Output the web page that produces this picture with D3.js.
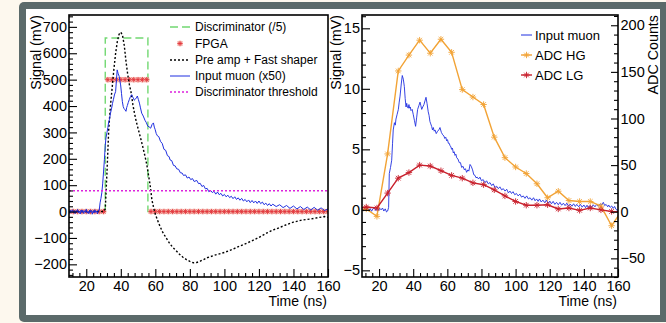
<!DOCTYPE html>
<html>
<head>
<meta charset="utf-8">
<script src="https://cdn.jsdelivr.net/npm/d3@7"></script>
<style>
  body { margin: 0; background: #fdf8ee; }
  text { font-family: "Liberation Sans", Arial, Helvetica, sans-serif; }
</style>
</head>
<body>
<div id="chart"></div>
<script>
// ---- data ----
// left panel: [time (ns), signal (mV)]
var discriminator = [[10,0],[31,0],[31,658],[55.7,658],[55.7,0],[160,0]];
var fpga = [[10,0],[12.5,0],[15,0],[17.5,0],[20,0],[22.5,0],[25,0],[27.5,0],[30,0],
  [32.5,500],[35,500],[37.5,500],[40,500],[42.5,500],[45,500],[47.5,500],[50,500],[52.5,500],[55,500],
  [57.5,0],[60,0],[62.5,0],[65,0],[67.5,0],[70,0],[72.5,0],[75,0],[77.5,0],[80,0],[82.5,0],[85,0],
  [87.5,0],[90,0],[92.5,0],[95,0],[97.5,0],[100,0],[102.5,0],[105,0],[107.5,0],[110,0],[112.5,0],
  [115,0],[117.5,0],[120,0],[122.5,0],[125,0],[127.5,0],[130,0],[132.5,0],[135,0],[137.5,0],[140,0],
  [142.5,0],[145,0],[147.5,0],[150,0],[152.5,0],[155,0],[157.5,0],[160,0]];
var preamp = [[10,0],[15,0],[20,0],[25,0],[28,0],[30,0],[31,10],[32,150],[33,310],[34,400],[35,470],
  [36,540],[37,600],[38,645],[39,672],[40,680],[41,668],[42,630],[43,570],[44,520],[45,480],[46,450],
  [47,405],[48,370],[49,340],[50,315],[51,290],[52,265],[53,238],[54,210],[55,180],[56,140],[57,100],
  [58,45],[59,15],[60,-10],[62,-45],[64,-75],[66,-97],[68,-118],[70,-135],[72,-148],[74,-162],[76,-173],
  [78,-182],[80,-189],[82,-194],[84,-193],[86,-188],[88,-182],[90,-175],[95,-164],[100,-155],[105,-142],
  [110,-128],[115,-114],[120,-98],[125,-80],[128,-70],[130,-66],[135,-52],[140,-40],[145,-32],[150,-28],
  [155,-22],[158,-19],[160,-22]];
var muonLeft = [[10,2],[10.5,-6],[11,5],[11.5,-3],[12,7],[12.5,-4],[13,3],[13.5,-8],[14,4],[14.5,-2],
  [15,8],[15.5,-5],[16,2],[16.5,-9],[17,6],[17.5,-3],[18,5],[18.5,-7],[19,3],[19.5,-2],[20,9],[20.5,-6],
  [21,1],[21.5,-8],[22,6],[22.5,-2],[23,4],[23.5,-10],[24,3],[24.5,-5],[25,7],[25.5,-3],[26,2],[26.5,-9],
  [27,5],[27.5,4],[28,33],[28.5,50],[29,71],[29.5,105],[30,150],[30.5,197],[31,250],[31.4,279],[32,300],
  [32.5,318],[33,340],[33.4,348],[34,372],[34.7,392],[35.2,410],[35.7,424],[36.3,442],[37,455],[37.5,500],
  [37.9,537],[38.5,522],[39.1,512],[39.5,494],[39.9,480],[40.4,448],[40.9,417],[41.4,398],[41.9,390],
  [42.4,386],[43,380],[43.4,394],[43.8,402],[44.3,413],[44.9,424],[45.6,436],[46.3,443],[46.8,435],
  [47.3,430],[47.8,422],[48.3,425],[49,431],[49.6,438],[50.2,424],[50.8,411],[51.4,393],[52.1,373],
  [53,362],[54,346],[54.8,337],[55.6,324],[56.4,321],[57.3,316],[58.1,330],[58.9,336],[59.4,320],
  [59.9,311],[60.5,296],[61.2,287],[62,284],[63,266],[64,258],[65,236],[66,232],[67,212],[68,208],
  [68.5,196],[69.5,193],[70.5,175],[71.5,173],[72.4,162],[73.5,160],[74.5,147],[75.5,146],[76.3,137],
  [77.5,139],[78.5,127],[79.5,131],[80.5,121],[81.5,125],[82.5,114],[84,118],[85,106],[86,107],[87,95],
  [88,99],[89,86],[90,88],[91,75],[92,80],[93,72],[94,77],[95,66],[96,74],[97,64],[98,69],[99,59],
  [100,65],[101,56],[102,62],[103,53],[104,58],[105,49],[106,56],[107,46],[108,52],[109,43],[110,50],
  [111,40],[112,46],[113,37],[114,44],[115,34],[116,42],[117,33],[118,40],[119,31],[120,40],[121,30],
  [122,36],[123,26],[124,32],[125,23],[126,30],[127,21],[128,28],[130,19],[132,26],[134,15],[136,23],
  [138,12],[140,21],[142,10],[144,19],[146,8],[148,17],[150,6],[152,16],[154,5],[156,14],[158,4],[160,10]];
var threshold = [[10,79],[160,79]];

// right panel: input muon [time, mV], ADC samples [counts]
var muonRight = [[10,0.05],[10.8,-0.1],[11.6,0.12],[12.4,-0.05],[13.2,0.15],[14,-0.08],[14.8,0.1],
  [15.6,-0.12],[16.4,0.08],[17.2,0.18],[18,-0.05],[18.8,0.1],[19.6,-0.1],[20.4,0.12],[21.2,0],[22,0.15],
  [22.8,-0.1],[23.6,0.08],[24.4,-0.18],[25,-0.1],[25.6,0.2],[26,3],[26.7,3.5],[27.4,4.1],[27.9,5.5],
  [28.3,6.6],[29,7.2],[29.5,7],[29.9,7.5],[30.6,7.9],[31.3,8.3],[31.8,8.9],[32.3,9.4],[33,10.4],
  [33.6,11.1],[34.2,10.8],[34.8,10.2],[35.3,9.2],[35.8,8.5],[36.2,8.8],[36.6,8.5],[37.1,8.4],[37.5,8.7],
  [37.9,8.4],[38.3,8.5],[38.7,8.2],[39.4,8.3],[40,7.9],[40.7,7.4],[41.4,6.9],[42,7.6],[42.6,8.3],
  [43.3,8.6],[44,8.9],[44.5,8.6],[45,8.3],[45.6,8.5],[46.3,8.7],[46.9,9],[47.5,9.3],[48.1,8.8],[48.8,8.1],
  [49.3,7.8],[49.8,7.3],[50.3,7.1],[50.8,6.9],[51.3,6.6],[51.8,6.8],[52.3,6.5],[52.8,6.6],[53.5,6.3],
  [54.3,6.5],[55,6.6],[55.7,6.8],[56.5,6.4],[57.3,6.2],[58,6.1],[58.5,5.9],[59.1,6],[59.6,5.7],[60.1,5.8],
  [60.6,5.5],[61.1,5.5],[61.6,5.3],[62.1,5.2],[62.5,5],[63,5.1],[63.5,4.7],[64,4.8],[64.5,4.5],[65,4.6],
  [65.5,4.3],[66.2,4.2],[67,3.9],[67.7,3.9],[68.4,3.5],[69.2,3.6],[70,3.3],[70.6,3.4],[71.3,3.1],[72,3.3],
  [72.6,3.2],[73.3,3.75],[74,3.6],[74.8,3.3],[75.5,2.9],[76.2,2.85],[76.8,2.65],[77.5,2.7],[78.3,2.55],
  [79.1,2.7],[80,2.4],[81,2.5],[82,2.25],[83,2.4],[84,2.15],[85,2.25],[86,2],[86.9,2.15],[87.9,1.85],
  [88.9,1.95],[89.9,1.75],[90.8,1.9],[91.8,1.65],[92.8,1.75],[93.8,1.55],[94.8,1.7],[95.8,1.4],[96.7,1.55],
  [97.6,1.35],[98.5,1.5],[99.5,1.25],[100.5,1.35],[101.5,1.15],[102.5,1.3],[103.5,1.05],[104.5,1.15],
  [105.5,0.95],[106.5,1.15],[107.5,0.9],[108.5,1],[109.5,0.8],[110.5,1],[111.4,0.75],[112.3,0.9],
  [113.2,0.7],[114,0.9],[115,0.65],[116,0.8],[117,0.6],[118,0.8],[119,0.55],[120.1,0.72],[121,0.5],
  [122,0.7],[123,0.45],[124,0.62],[125,0.42],[126,0.62],[127,0.38],[128,0.55],[129,0.35],[130,0.55],
  [131,0.3],[132,0.48],[133,0.3],[134,0.5],[135,0.28],[135.8,0.45],[137,0.25],[138,0.45],[139,0.22],
  [140,0.4],[141,0.18],[141.8,0.38],[142.7,0.18],[143.6,0.35],[144.5,0.2],[145.5,0.42],[146.5,0.25],
  [147.5,0.45],[148.5,0.3],[149.5,0.5],[150.5,0.4],[151.4,0.62],[152.2,0.35],[153,0.45],[154,0.25],
  [154.5,0.4],[155.4,0.2],[156.3,0.32],[157.2,0.12],[158,0.28],[158.8,0.05],[159.6,-0.05],[160,0.05]];
var adcTime = [6.25,12.5,18.75,25,31.25,37.5,43.75,50,56.25,62.5,68.75,75,81.25,87.5,93.75,100,
  106.25,112.5,118.75,125,131.25,137.5,143.75,150,156.25,162.5];
var adcHG = [0,3,-5,62,151,168,184,170,185,171,131,123,115,80,58,48,41,30,15,22,12,11,11,6,-15,2];
var adcLG = [3,5,4,20,36,42,50,49,44,39,36,31,29,23.5,17,11,7,7,7.5,3,4,1.5,4,2,0.3,0];

// tick labels
var timeTicks = [20,40,60,80,100,120,140,160];
var leftSignalTicks = [-200,-100,0,100,200,300,400,500,600,700];
var rightSignalTicks = [-5,0,5,10,15];
var adcTicks = [-50,0,50,100,150,200];

var legendLeft = ["Discriminator (/5)","FPGA","Pre amp + Fast shaper","Input muon (x50)","Discriminator threshold"];
var legendRight = ["Input muon","ADC HG","ADC LG"];

var colGreen = "#72d872", colFpga = "#e3343c", colBlue = "#1f2fe0", colMag = "#dd22dd",
    colOrange = "#f2a335", colRed = "#c8202c";

// ---- canvas ----
var svg = d3.select("#chart").append("svg")
    .attr("width", 666)
    .attr("height", 323);

svg.append("rect").attr("width", 666).attr("height", 323).attr("fill", "#fdf8ee");
svg.append("rect").attr("x", 19).attr("y", 2).attr("width", 660).attr("height", 320)
    .attr("rx", 5).attr("fill", "#5b6a6a");
svg.append("rect").attr("x", 26).attr("y", 9).attr("width", 634).attr("height", 306).attr("fill", "#fff");

var boxL = {x0: 69, x1: 328, y0: 15, y1: 277};
var boxR = {x0: 362, x1: 618, y0: 15, y1: 277};

var xL = d3.scaleLinear().domain([10, 160]).range([boxL.x0, boxL.x1]);
var yL = d3.scaleLinear().domain([-248, 745]).range([boxL.y1, boxL.y0]);
var xR = d3.scaleLinear().domain([10, 160]).range([boxR.x0, boxR.x1]);
var yR = d3.scaleLinear().domain([-5.55, 16.1]).range([boxR.y1, boxR.y0]);
var yA = d3.scaleLinear().domain([-70, 211]).range([boxR.y1, boxR.y0]);

function minorTicks(lo, hi, step, majors) {
    return d3.range(lo, hi + 1e-9, step).filter(function(v) {
        return majors.indexOf(Math.round(v * 1000) / 1000) < 0;
    });
}

function styleAxis(g, size) {
    g.select(".domain").remove();
    g.selectAll("line").attr("stroke", "#000").attr("stroke-width", 1.1);
    g.selectAll("text").style("font-size", size + "px").style("font-family", '"Liberation Sans", Arial, sans-serif').attr("fill", "#000");
}

function frameAndAxes(box, x, y, yTicks, yMinorStep) {
    // x axis (ticks point inward)
    svg.append("g")
        .attr("transform", "translate(0," + box.y1 + ")")
        .call(d3.axisBottom(x).tickValues(minorTicks(12, 160, 4, timeTicks)).tickSizeInner(-4).tickSizeOuter(0).tickFormat(""))
        .call(function(g) { styleAxis(g, 14.5); });
    svg.append("g")
        .attr("transform", "translate(0," + box.y1 + ")")
        .call(d3.axisBottom(x).tickValues(timeTicks).tickSizeInner(-8).tickSizeOuter(0).tickPadding(4))
        .call(function(g) { styleAxis(g, 14.5); });

    // left y axis
    var dom = y.domain();
    svg.append("g")
        .attr("transform", "translate(" + box.x0 + ",0)")
        .call(d3.axisLeft(y).tickValues(minorTicks(Math.ceil(dom[0] / yMinorStep) * yMinorStep, dom[1], yMinorStep, yTicks))
            .tickSizeInner(-4).tickSizeOuter(0).tickFormat(""))
        .call(function(g) { styleAxis(g, 14.5); });
    svg.append("g")
        .attr("transform", "translate(" + box.x0 + ",0)")
        .call(d3.axisLeft(y).tickValues(yTicks).tickSizeInner(-8).tickSizeOuter(0).tickPadding(2))
        .call(function(g) { styleAxis(g, 14.5); });

    // frame
    svg.append("rect")
        .attr("x", box.x0).attr("y", box.y0)
        .attr("width", box.x1 - box.x0).attr("height", box.y1 - box.y0)
        .attr("fill", "none").attr("stroke", "#000").attr("stroke-width", 1.6);
}

function star(cx, cy, r) {
    var d = r * 0.72;
    return "M" + (cx - r) + "," + cy + "h" + (2 * r) +
        "M" + cx + "," + (cy - r) + "v" + (2 * r) +
        "M" + (cx - d) + "," + (cy - d) + "l" + (2 * d) + "," + (2 * d) +
        "M" + (cx - d) + "," + (cy + d) + "l" + (2 * d) + "," + (-2 * d);
}

// clip paths
var defs = svg.append("defs");
[["clipL", boxL], ["clipR", boxR]].forEach(function(c) {
    defs.append("clipPath").attr("id", c[0]).append("rect")
        .attr("x", c[1].x0).attr("y", c[1].y0)
        .attr("width", c[1].x1 - c[1].x0).attr("height", c[1].y1 - c[1].y0);
});

// ================= left panel =================
var lineL = d3.line()
    .x(function(d) { return xL(d[0]); })
    .y(function(d) { return yL(d[1]); });

var plotL = svg.append("g").attr("clip-path", "url(#clipL)");

plotL.append("path")
    .attr("d", lineL(discriminator))
    .attr("fill", "none").attr("stroke", colGreen).attr("stroke-width", 1.4)
    .attr("stroke-dasharray", "8,4");

plotL.selectAll(".fpga")
    .data(fpga)
    .enter()
    .append("g")
    .each(function(d) {
        var g = d3.select(this);
        g.append("circle").attr("cx", xL(d[0])).attr("cy", yL(d[1])).attr("r", 3)
            .attr("fill", "#f5b3a6").attr("opacity", 0.7);
        g.append("path").attr("d", star(xL(d[0]), yL(d[1]), 2.6))
            .attr("stroke", colFpga).attr("stroke-width", 0.9).attr("fill", "none");
    });

plotL.append("path")
    .attr("d", lineL(preamp))
    .attr("fill", "none").attr("stroke", "#000").attr("stroke-width", 1.4)
    .attr("stroke-dasharray", "2,2");

plotL.append("path")
    .attr("d", lineL(muonLeft))
    .attr("fill", "none").attr("stroke", colBlue).attr("stroke-width", 1);

plotL.append("path")
    .attr("d", lineL(threshold))
    .attr("fill", "none").attr("stroke", colMag).attr("stroke-width", 1.4)
    .attr("stroke-dasharray", "2,2");

frameAndAxes(boxL, xL, yL, leftSignalTicks, 20);

// legend, left
var legY = [27, 43.5, 60, 76, 92];
legendLeft.forEach(function(label, i) {
    var yy = legY[i];
    if (i === 1) {
        svg.append("circle").attr("cx", 180).attr("cy", yy).attr("r", 3).attr("fill", "#f5b3a6").attr("opacity", 0.7);
        svg.append("path").attr("d", star(180, yy, 2.6)).attr("stroke", colFpga).attr("stroke-width", 0.9).attr("fill", "none");
    } else {
        var st = [colGreen, null, "#000", colBlue, colMag][i];
        var dash = i === 0 ? "8,4" : (i === 3 ? null : "2,2");
        svg.append("line").attr("x1", 170).attr("x2", 190).attr("y1", yy).attr("y2", yy)
            .attr("stroke", st).attr("stroke-width", i === 3 ? 1 : 1.4)
            .attr("stroke-dasharray", dash);
    }
    svg.append("text").attr("x", 195).attr("y", yy).attr("dy", "0.36em")
        .style("font-size", "12px").text(label);
});

// axis titles, left
svg.append("text")
    .attr("transform", "translate(41,15) rotate(-90)")
    .style("text-anchor", "end").style("font-size", "14.3px")
    .text("Signal (mV)");
svg.append("text")
    .attr("x", 327).attr("y", 306)
    .style("text-anchor", "end").style("font-size", "14px")
    .text("Time (ns)");

// ================= right panel =================
var lineMuonR = d3.line()
    .x(function(d) { return xR(d[0]); })
    .y(function(d) { return yR(d[1]); });
var lineAdc = d3.line()
    .x(function(d) { return xR(d[0]); })
    .y(function(d) { return yA(d[1]); });

var plotR = svg.append("g").attr("clip-path", "url(#clipR)");

plotR.append("path")
    .attr("d", lineMuonR(muonRight))
    .attr("fill", "none").attr("stroke", colBlue).attr("stroke-width", 0.9);

[[adcHG, colOrange], [adcLG, colRed]].forEach(function(s) {
    var pts = d3.zip(adcTime, s[0]);
    plotR.append("path")
        .attr("d", lineAdc(pts))
        .attr("fill", "none").attr("stroke", s[1]).attr("stroke-width", 1.4);
    plotR.selectAll(null)
        .data(pts)
        .enter()
        .append("path")
        .attr("d", function(d) { return star(xR(d[0]), yA(d[1]), 3.2); })
        .attr("stroke", s[1]).attr("stroke-width", 0.9).attr("fill", "none");
});

frameAndAxes(boxR, xR, yR, rightSignalTicks, 1);

// ADC axis on the right
svg.append("g")
    .attr("transform", "translate(" + boxR.x1 + ",0)")
    .call(d3.axisRight(yA).tickValues(minorTicks(-70, 211, 10, adcTicks)).tickSizeInner(-4).tickSizeOuter(0).tickFormat(""))
    .call(function(g) { styleAxis(g, 14.5); });
svg.append("g")
    .attr("transform", "translate(" + boxR.x1 + ",0)")
    .call(d3.axisRight(yA).tickValues(adcTicks).tickSizeInner(-7).tickSizeOuter(0).tickPadding(2.5))
    .call(function(g) { styleAxis(g, 14.5); });

// legend, right
var legRY = [35, 55, 75];
var legRCol = [colBlue, colOrange, colRed];
legendRight.forEach(function(label, i) {
    var yy = legRY[i];
    svg.append("line").attr("x1", 521).attr("x2", 532).attr("y1", yy).attr("y2", yy)
        .attr("stroke", legRCol[i]).attr("stroke-width", i === 0 ? 1 : 1.4);
    if (i > 0) {
        svg.append("path").attr("d", star(526.5, yy, 3.2))
            .attr("stroke", legRCol[i]).attr("stroke-width", 0.9).attr("fill", "none");
    }
    svg.append("text").attr("x", 535).attr("y", yy).attr("dy", "0.36em")
        .style("font-size", "13px").text(label);
});

// axis titles, right
svg.append("text")
    .attr("transform", "translate(341,15) rotate(-90)")
    .style("text-anchor", "end").style("font-size", "14.3px")
    .text("Signal (mV)");
svg.append("text")
    .attr("transform", "translate(658,15) rotate(-90)")
    .style("text-anchor", "end").style("font-size", "14.3px")
    .text("ADC Counts");
svg.append("text")
    .attr("x", 617).attr("y", 306)
    .style("text-anchor", "end").style("font-size", "14px")
    .text("Time (ns)");
</script>
</body>
</html>
